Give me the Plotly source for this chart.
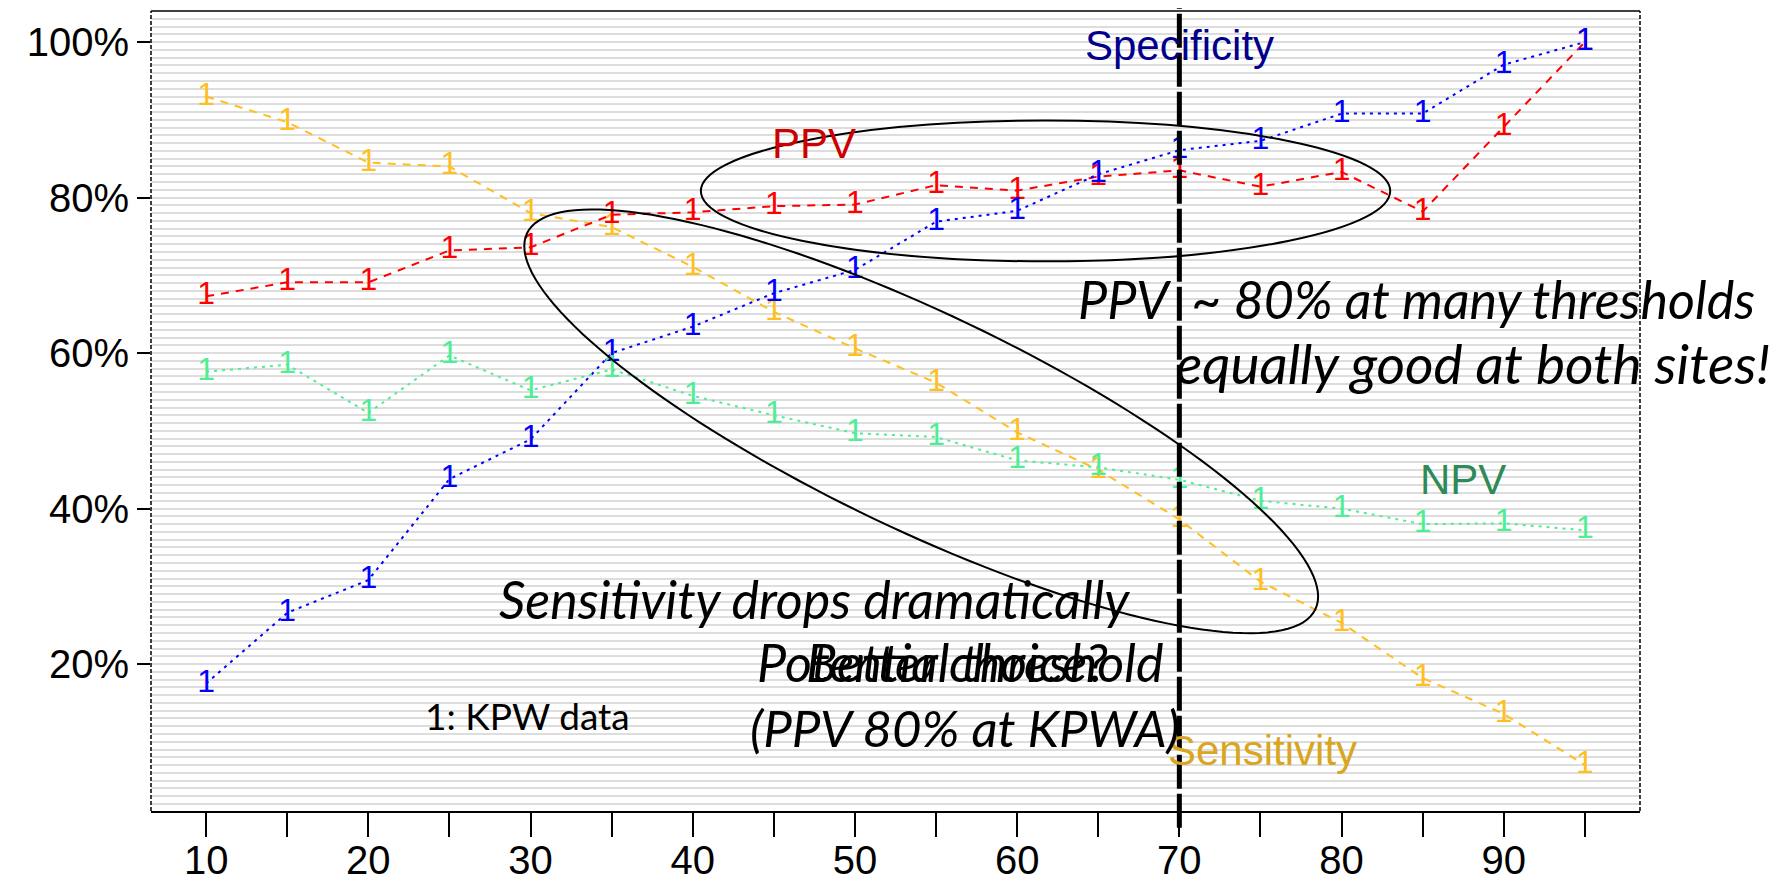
import math
import plotly.graph_objects as go

# ---------------- data ----------------
thresholds = [10, 15, 20, 25, 30, 35, 40, 45, 50, 55, 60, 65, 70, 75, 80, 85, 90, 95]
sensitivity = [93.0, 89.7, 84.5, 84.0, 78.0, 76.2, 71.1, 65.3, 60.6, 56.2, 49.8, 45.0, 38.6, 30.6, 25.3, 18.2, 13.6, 7.0]
ppv = [67.3, 69.1, 69.1, 73.2, 73.6, 77.8, 78.1, 78.9, 79.1, 81.6, 80.9, 82.7, 83.5, 81.4, 83.3, 78.2, 89.1, 100.0]
specificity = [17.5, 26.6, 30.8, 43.8, 48.9, 60.0, 63.4, 67.7, 70.7, 76.9, 78.3, 83.0, 86.1, 87.3, 90.8, 90.8, 97.1, 100.0]
npv = [57.6, 58.5, 52.3, 59.7, 55.2, 57.9, 54.5, 52.0, 49.7, 49.2, 46.2, 45.3, 43.7, 41.0, 40.0, 38.0, 38.1, 37.2]

x_tick_vals = thresholds
x_tick_text = ["10", "", "20", "", "30", "", "40", "", "50", "", "60", "", "70", "", "80", "", "90", ""]
y_tick_vals = [20, 40, 60, 80, 100]
y_tick_text = ["20%", "40%", "60%", "80%", "100%"]

# the page body has an 8px default margin: compensate so the plot lands where the reference has it
W, H = 1780, 875
ML, MR, MT, MB = 143, 148, 3, 72
XR = [6.6, 98.4]
YR = [1.1, 104.0]

fig = go.Figure()

series = [
    ("Sensitivity", sensitivity, "#FFBF1F", "8px,7px"),
    ("PPV", ppv, "#FF0000", "8px,7px"),
    ("Specificity", specificity, "#0000FF", "3px,5px"),
    ("NPV", npv, "#4EEE94", "3px,5px"),
]
for name, vals, col, dash in series:
    fig.add_trace(go.Scatter(
        x=thresholds, y=vals, mode="lines+text", name=name,
        text=["1"] * len(vals), textposition="middle center",
        textfont=dict(family="Liberation Sans", size=32, color=col),
        line=dict(color=col, width=2, dash=dash),
        showlegend=False, hoverinfo="skip", cliponaxis=False,
    ))

# pixel (page) -> data helpers for the hand-drawn ellipse overlay
OFF = 8
pw = W - ML - MR
ph = H - MT - MB
def px2x(px):
    return XR[0] + (px - OFF - ML) / pw * (XR[1] - XR[0])
def px2y(py):
    return YR[1] - (py - OFF - MT) / ph * (YR[1] - YR[0])

# lower rotated ellipse (page pixels: centre, semi-axes, tilt)
cx, cy, a, b, th = 921.2, 421.3, 436.7, 108.3, math.radians(25.5)
pts = []
for k in range(160):
    t = 2 * math.pi * k / 160
    px = cx + a * math.cos(t) * math.cos(th) - b * math.sin(t) * math.sin(th)
    py = cy + a * math.cos(t) * math.sin(th) + b * math.sin(t) * math.cos(th)
    pts.append((px2x(px), px2y(py)))
ell_path = "M " + " L ".join(f"{x:.3f},{y:.3f}" for x, y in pts) + " Z"

shapes = [
    dict(type="line", xref="paper", yref="paper", x0=0, x1=1, y0=1, y1=1,
         line=dict(color="black", width=1.5)),
    dict(type="line", xref="paper", yref="paper", x0=0, x1=0, y0=0, y1=1,
         line=dict(color="black", width=1.5, dash="4px,2px")),
    dict(type="line", xref="paper", yref="paper", x0=1, x1=1, y0=0, y1=1,
         line=dict(color="black", width=1.5, dash="4px,2px")),
    dict(type="circle", xref="x", yref="y", x0=40.5, x1=83.0, y0=71.8, y1=89.9,
         line=dict(color="black", width=2)),
    dict(type="path", xref="x", yref="y", path=ell_path,
         line=dict(color="black", width=2)),
    dict(type="line", xref="x", yref="paper", x0=70, x1=70, y0=-0.021, y1=1.004,
         line=dict(color="black", width=5, dash="34px,5px")),
]

sans = "Liberation Sans"
ital = "Lato"
annotations = [
    dict(x=70.0, y=99.5, text="Specificity", font=dict(family=sans, size=42, color="#00008B")),
    dict(x=47.5, y=86.9, text="PPV", font=dict(family=sans, size=42, color="#CD0000")),
    dict(x=87.5, y=43.7, text="NPV", font=dict(family=sans, size=42, color="#2E8B57")),
    dict(x=75.1, y=8.9, text="Sensitivity", font=dict(family=sans, size=42, color="#DAA520")),
    dict(x=84.6, y=66.9, text="<i>PPV  ~ 80% at many thresholds</i>", font=dict(family=ital, size=52, color="black")),
    dict(x=88.1, y=58.7, text="<i>equally good at both sites!</i>", font=dict(family=ital, size=55, color="black")),
    dict(x=47.5, y=28.4, text="<i>Sensitivity drops dramatically</i>", font=dict(family=ital, size=52, color="black")),
    dict(x=56.5, y=20.3, text="<i>Potential threshold</i>", font=dict(family=ital, size=52, color="black")),
    dict(x=56.3, y=20.3, text="<i>Better choice?</i>", font=dict(family=ital, size=52, color="black")),
    dict(x=56.8, y=11.9, text="<i>(PPV 80% at KPWA)</i>", font=dict(family=ital, size=51, color="black")),
    dict(x=29.8, y=13.4, text="1: KPW data", font=dict(family=ital, size=37, color="black")),
]
for an in annotations:
    an.update(xref="x", yref="y", showarrow=False, xanchor="center", yanchor="middle")

fig.update_layout(
    width=W, height=H,
    margin=dict(l=ML, r=MR, t=MT, b=MB, pad=0, autoexpand=False),
    paper_bgcolor="white", plot_bgcolor="white",
    shapes=shapes, annotations=annotations,
    xaxis=dict(range=XR, tickmode="array", tickvals=x_tick_vals, ticktext=x_tick_text,
               ticks="outside", ticklen=24, tickwidth=2, tickcolor="black",
               ticklabelstandoff=-11,
               showline=True, linecolor="black", linewidth=2,
               showgrid=False, zeroline=False, automargin=False,
               tickfont=dict(family=sans, size=40, color="black")),
    yaxis=dict(range=YR, tickmode="array", tickvals=y_tick_vals, ticktext=y_tick_text,
               ticks="outside", ticklen=13, tickwidth=2, tickcolor="black",
               showline=False, zeroline=False, automargin=False,
               showgrid=True, gridcolor="#dddddd", gridwidth=2,
               minor=dict(tick0=0, dtick=1, showgrid=True, gridcolor="#dddddd", gridwidth=2, ticks=""),
               tickfont=dict(family=sans, size=40, color="black")),
)

fig.write_html("out.html")
